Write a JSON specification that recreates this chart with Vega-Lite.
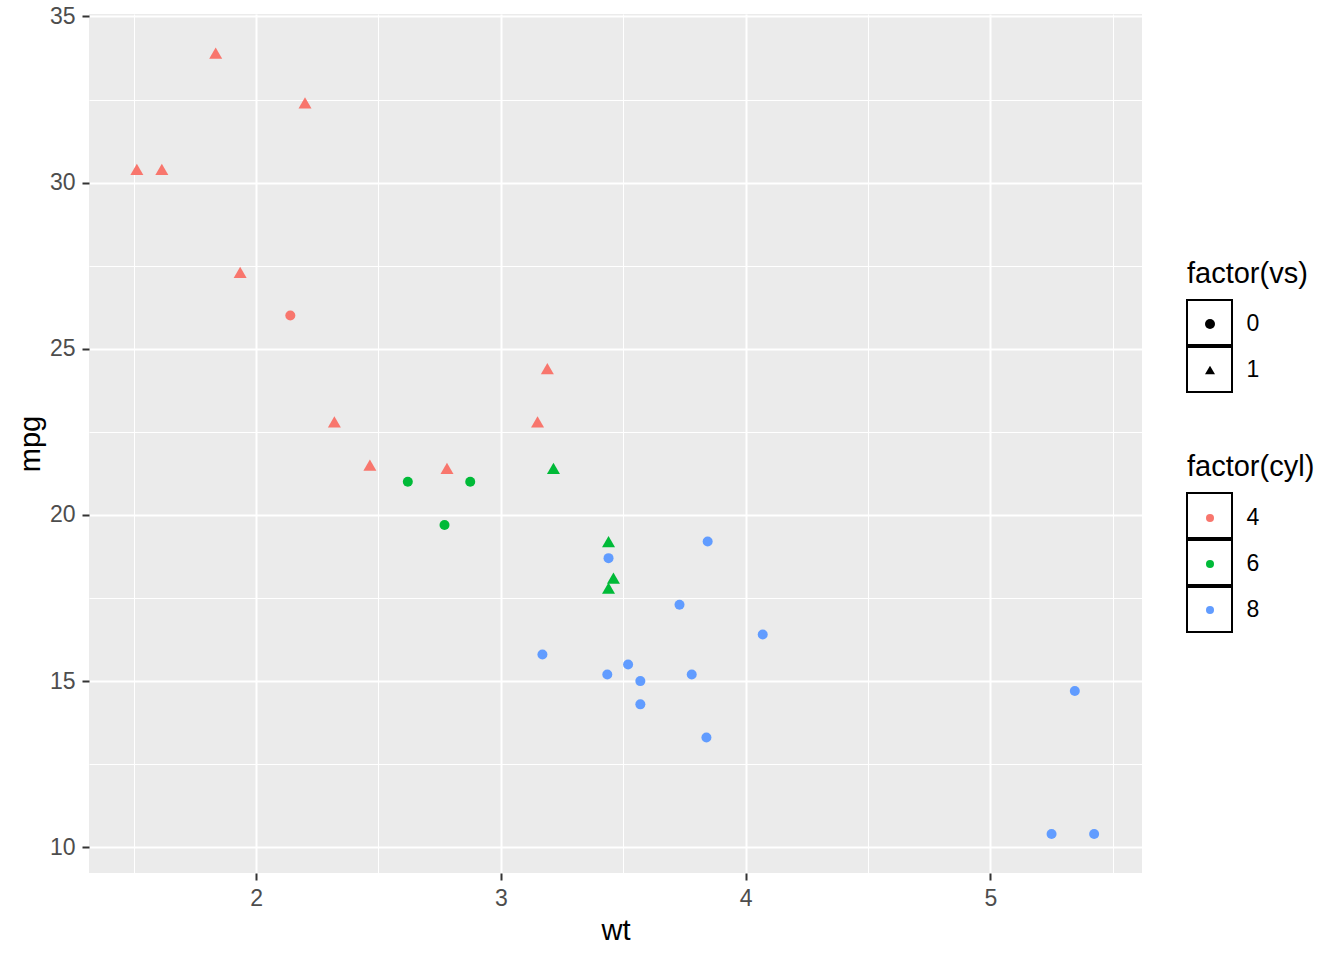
{
  "$schema": "https://vega.github.io/schema/vega-lite/v6.json",
  "width": 1053,
  "height": 859,
  "autosize": "none",
  "padding": {"left": 89, "top": 14, "right": 202, "bottom": 87},
  "background": "white",
  "config": {
    "view": {"fill": "#EBEBEB", "stroke": null},
    "font": "Liberation Sans",
    "axis": {
      "domain": false,
      "gridColor": "white",
      "tickColor": "#333333",
      "tickSize": 7,
      "tickWidth": 2,
      "labelColor": "#4D4D4D",
      "labelFontSize": 23,
      "labelFont": "Liberation Sans",
      "titleFont": "Liberation Sans",
      "titleFontSize": 29,
      "titleFontWeight": "normal",
      "titleColor": "black"
    },
    "legend": {
      "titleFont": "Liberation Sans",
      "titleFontSize": 29,
      "titleFontWeight": "normal",
      "titleColor": "black",
      "labelFont": "Liberation Sans",
      "labelFontSize": 23,
      "labelColor": "black"
    }
  },
  "data": {
    "values": [
      {"model": "Mazda RX4", "mpg": 21.0, "cyl": "6", "wt": 2.620, "vs": "0"},
      {"model": "Mazda RX4 Wag", "mpg": 21.0, "cyl": "6", "wt": 2.875, "vs": "0"},
      {"model": "Datsun 710", "mpg": 22.8, "cyl": "4", "wt": 2.320, "vs": "1"},
      {"model": "Hornet 4 Drive", "mpg": 21.4, "cyl": "6", "wt": 3.215, "vs": "1"},
      {"model": "Hornet Sportabout", "mpg": 18.7, "cyl": "8", "wt": 3.440, "vs": "0"},
      {"model": "Valiant", "mpg": 18.1, "cyl": "6", "wt": 3.460, "vs": "1"},
      {"model": "Duster 360", "mpg": 14.3, "cyl": "8", "wt": 3.570, "vs": "0"},
      {"model": "Merc 240D", "mpg": 24.4, "cyl": "4", "wt": 3.190, "vs": "1"},
      {"model": "Merc 230", "mpg": 22.8, "cyl": "4", "wt": 3.150, "vs": "1"},
      {"model": "Merc 280", "mpg": 19.2, "cyl": "6", "wt": 3.440, "vs": "1"},
      {"model": "Merc 280C", "mpg": 17.8, "cyl": "6", "wt": 3.440, "vs": "1"},
      {"model": "Merc 450SE", "mpg": 16.4, "cyl": "8", "wt": 4.070, "vs": "0"},
      {"model": "Merc 450SL", "mpg": 17.3, "cyl": "8", "wt": 3.730, "vs": "0"},
      {"model": "Merc 450SLC", "mpg": 15.2, "cyl": "8", "wt": 3.780, "vs": "0"},
      {"model": "Cadillac Fleetwood", "mpg": 10.4, "cyl": "8", "wt": 5.250, "vs": "0"},
      {"model": "Lincoln Continental", "mpg": 10.4, "cyl": "8", "wt": 5.424, "vs": "0"},
      {"model": "Chrysler Imperial", "mpg": 14.7, "cyl": "8", "wt": 5.345, "vs": "0"},
      {"model": "Fiat 128", "mpg": 32.4, "cyl": "4", "wt": 2.200, "vs": "1"},
      {"model": "Honda Civic", "mpg": 30.4, "cyl": "4", "wt": 1.615, "vs": "1"},
      {"model": "Toyota Corolla", "mpg": 33.9, "cyl": "4", "wt": 1.835, "vs": "1"},
      {"model": "Toyota Corona", "mpg": 21.5, "cyl": "4", "wt": 2.465, "vs": "1"},
      {"model": "Dodge Challenger", "mpg": 15.5, "cyl": "8", "wt": 3.520, "vs": "0"},
      {"model": "AMC Javelin", "mpg": 15.2, "cyl": "8", "wt": 3.435, "vs": "0"},
      {"model": "Camaro Z28", "mpg": 13.3, "cyl": "8", "wt": 3.840, "vs": "0"},
      {"model": "Pontiac Firebird", "mpg": 19.2, "cyl": "8", "wt": 3.845, "vs": "0"},
      {"model": "Fiat X1-9", "mpg": 27.3, "cyl": "4", "wt": 1.935, "vs": "1"},
      {"model": "Porsche 914-2", "mpg": 26.0, "cyl": "4", "wt": 2.140, "vs": "0"},
      {"model": "Lotus Europa", "mpg": 30.4, "cyl": "4", "wt": 1.513, "vs": "1"},
      {"model": "Ford Pantera L", "mpg": 15.8, "cyl": "8", "wt": 3.170, "vs": "0"},
      {"model": "Ferrari Dino", "mpg": 19.7, "cyl": "6", "wt": 2.770, "vs": "0"},
      {"model": "Maserati Bora", "mpg": 15.0, "cyl": "8", "wt": 3.570, "vs": "0"},
      {"model": "Volvo 142E", "mpg": 21.4, "cyl": "4", "wt": 2.780, "vs": "1"}
    ]
  },
  "encoding": {
    "x": {
      "field": "wt", "type": "quantitative",
      "scale": {"domain": [1.3175, 5.6195], "nice": false, "zero": false},
      "axis": {
        "title": "wt",
        "values": [1.5, 2, 2.5, 3, 3.5, 4, 4.5, 5, 5.5],
        "labelExpr": "datum.value % 1 === 0 ? datum.value : ''",
        "gridWidth": {"condition": {"test": "datum.value % 1 !== 0", "value": 1}, "value": 2},
        "tickOpacity": {"condition": {"test": "datum.value % 1 !== 0", "value": 0}, "value": 1},
        "labelPadding": 7,
        "titlePadding": 6
      }
    },
    "y": {
      "field": "mpg", "type": "quantitative",
      "scale": {"domain": [9.225, 35.075], "nice": false, "zero": false},
      "axis": {
        "title": "mpg",
        "values": [10, 12.5, 15, 17.5, 20, 22.5, 25, 27.5, 30, 32.5, 35],
        "labelExpr": "datum.value % 5 === 0 ? datum.value : ''",
        "gridWidth": {"condition": {"test": "datum.value % 5 !== 0", "value": 1}, "value": 2},
        "tickOpacity": {"condition": {"test": "datum.value % 5 !== 0", "value": 0}, "value": 1},
        "labelPadding": 7,
        "titlePadding": 4
      }
    }
  },
  "layer": [
    {
      "mark": {"type": "point", "filled": false, "color": "black", "strokeWidth": 2, "opacity": 0},
      "encoding": {
        "shape": {
          "field": "vs", "type": "nominal",
          "scale": {"domain": ["0", "1"], "range": ["square", "square"]},
          "legend": {
            "orient": "none", "legendX": 1097, "legendY": 285,
            "title": null, "labelExpr": "''", "zindex": 0,
            "clipHeight": 47, "rowPadding": -1,
            "symbolSize": 2025,
            "symbolStrokeWidth": 2, "symbolOpacity": 1,
            "encode": {"symbols": {"update": {"opacity": {"value": 1}}}}
          }
        }
      }
    },
    {
      "mark": {"type": "point", "filled": false, "color": "black", "strokeWidth": 2, "opacity": 0},
      "encoding": {
        "shape": {
          "field": "cyl", "type": "nominal",
          "scale": {"domain": ["4", "6", "8"], "range": ["square", "square", "square"]},
          "legend": {
            "orient": "none", "legendX": 1097, "legendY": 478,
            "title": null, "labelExpr": "''", "zindex": 0,
            "clipHeight": 47, "rowPadding": -1,
            "symbolSize": 2025,
            "symbolStrokeWidth": 2, "symbolOpacity": 1,
            "encode": {"symbols": {"update": {"opacity": {"value": 1}}}}
          }
        }
      }
    },
    {
      "mark": {"type": "point", "filled": true, "opacity": 1},
      "encoding": {
        "color": {
          "field": "cyl", "type": "nominal",
          "scale": {"domain": ["4", "6", "8"], "range": ["#F8766D", "#00BA38", "#619CFF"]},
          "legend": {
            "orient": "none", "legendX": 1098, "legendY": 439,
            "title": "factor(cyl)", "zindex": 1,
            "clipHeight": 46, "rowPadding": 0, "titlePadding": 13,
            "symbolType": "circle", "symbolSize": 64, "symbolOpacity": 1,
            "symbolOffset": 11.5, "labelOffset": 25
          }
        },
        "shape": {
          "field": "vs", "type": "nominal",
          "scale": {"domain": ["0", "1"], "range": ["circle", "triangle-up"]},
          "legend": {
            "orient": "none", "legendX": 1098, "legendY": 246,
            "title": "factor(vs)", "zindex": 1,
            "clipHeight": 46, "rowPadding": 0, "titlePadding": 12,
            "symbolSize": 100, "symbolOffset": 11.5, "labelOffset": 25,
            "symbolFillColor": "black", "symbolStrokeColor": "black", "symbolStrokeWidth": 0, "symbolOpacity": 1,
            "encode": {"symbols": {"update": {"fill": {"value": "black"}, "opacity": {"value": 1}}}}
          }
        },
        "size": {
          "field": "vs", "type": "nominal",
          "scale": {"domain": ["0", "1"], "range": [100, 169]},
          "legend": null
        }
      }
    }
  ],
  "resolve": {"scale": {"shape": "independent"}, "legend": {"shape": "independent"}}
}
